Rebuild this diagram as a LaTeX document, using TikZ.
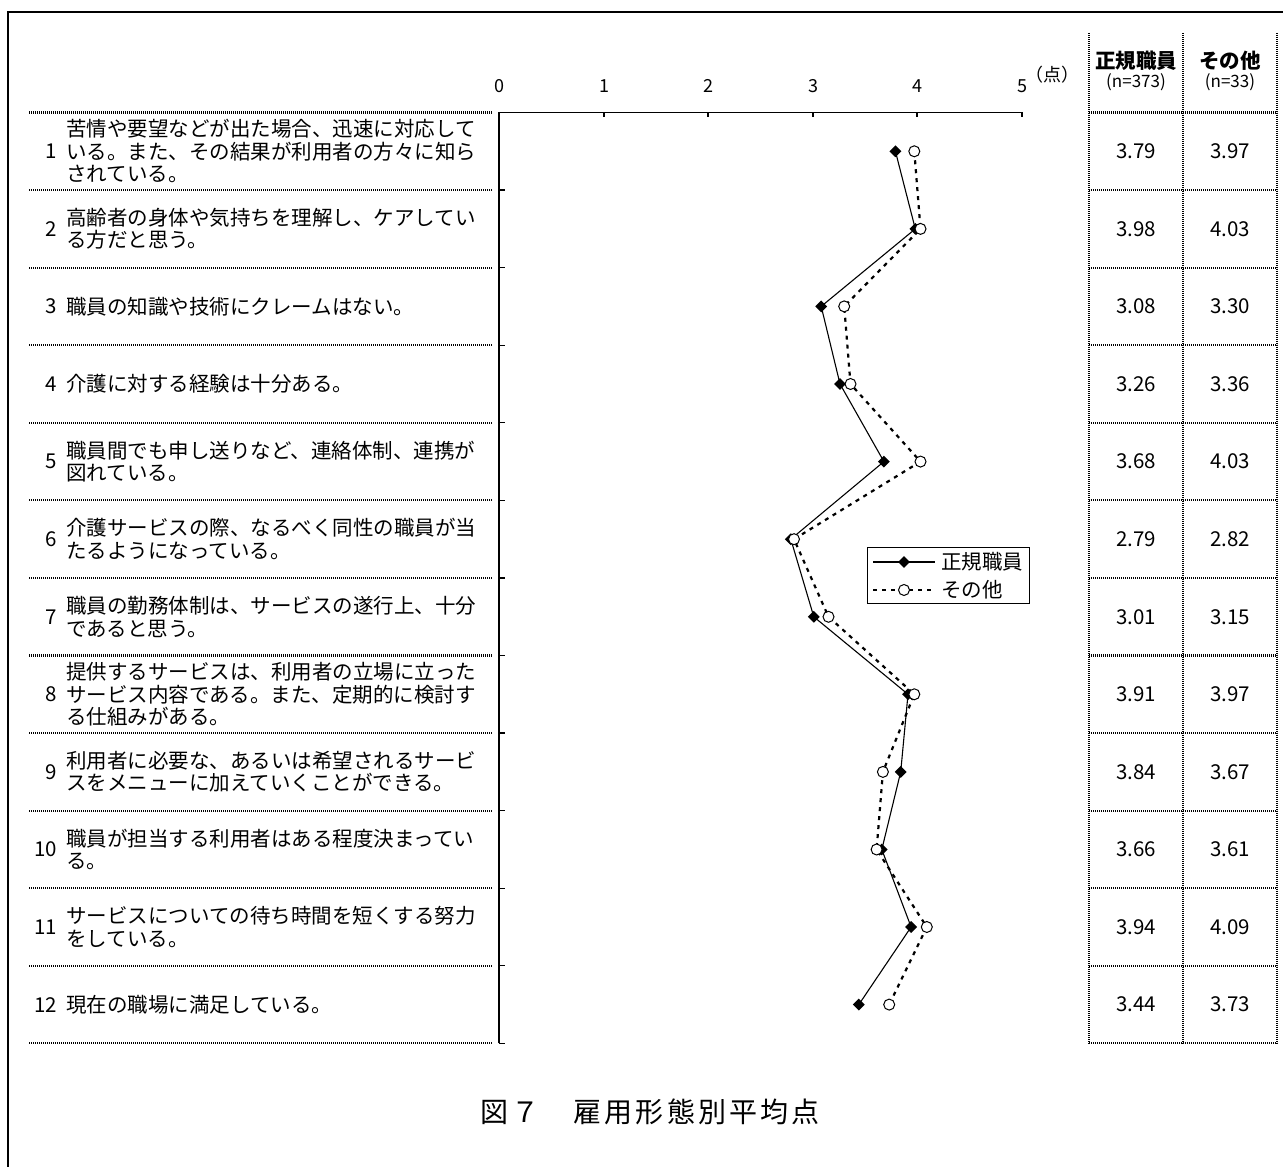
\documentclass[tikz,border=0pt]{standalone}
\usepackage{fontspec}
\setmainfont{Noto Sans CJK JP}
\newfontfamily\titlefont[LetterSpace=11]{Noto Sans CJK JP}
\usetikzlibrary{shapes.geometric}

\tikzset{
  dotsep/.style={line width=2.2bp, dash pattern=on 1bp off 1bp},
  axisline/.style={line width=1.2bp},
  fulline/.style={line width=1.1bp},
  dotline/.style={line width=2.2bp, dash pattern=on 4bp off 5bp},
  dia/.style={diamond, fill=black, inner sep=0pt, minimum size=12bp},
  circ/.style={circle, draw, fill=white, line width=1bp, inner sep=0pt, minimum size=11bp},
  rowtxt/.style={anchor=west, align=left, inner sep=0pt, font=\fontsize{20.5bp}{22.5bp}\selectfont},
  rownum/.style={anchor=east, inner sep=0pt, font=\fontsize{20.5bp}{22.5bp}\selectfont},
  val/.style={inner sep=0pt, font=\fontsize{20.5bp}{22.5bp}\selectfont},
  ticklbl/.style={inner sep=0pt, font=\fontsize{18bp}{20bp}\selectfont},
}

\begin{document}
\begin{tikzpicture}
\useasboundingbox (0bp,0bp) rectangle (1283bp,1167bp);

% Frame
\draw [line width=2bp] (1290bp,1155bp) -- (8bp,1155bp) -- (8bp,-5bp);

% Row separators, table lines, axis ticks
\foreach \y in {1054.5,976.9,899.3,821.8,744.2,666.6,589.0,511.5,433.9,356.3,278.7,201.2,123.6} {
  \draw [dotsep] (29bp,\y bp) -- (492bp,\y bp);
  \draw [dotsep] (1089bp,\y bp) -- (1277bp,\y bp);
  \draw [axisline] (499bp,\y bp) -- (505bp,\y bp);
}
\draw [dotsep] (1089bp,1134bp) -- (1089bp,123.6bp);
\draw [dotsep] (1183bp,1134bp) -- (1183bp,123.6bp);
\draw [dotsep] (1277bp,1134bp) -- (1277bp,123.6bp);

% Axes
\draw [axisline] (499bp,123.6bp) -- (499bp,1054.5bp) -- (1022bp,1054.5bp);
\draw [axisline] (604bp,1054.5bp) -- (604bp,1049.5bp);
\draw [axisline] (708bp,1054.5bp) -- (708bp,1049.5bp);
\draw [axisline] (813bp,1054.5bp) -- (813bp,1049.5bp);
\draw [axisline] (917bp,1054.5bp) -- (917bp,1049.5bp);
\draw [axisline] (1022bp,1054.5bp) -- (1022bp,1049.5bp);
\node [ticklbl] (t0) at (499bp,1081bp) {0};
\node [ticklbl] (t1) at (604bp,1081bp) {1};
\node [ticklbl] (t2) at (708bp,1081bp) {2};
\node [ticklbl] (t3) at (813bp,1081bp) {3};
\node [ticklbl] (t4) at (917bp,1081bp) {4};
\node [ticklbl] (t5) at (1022bp,1081bp) {5};
\node [inner sep=0pt, font=\fontsize{18bp}{20bp}\selectfont] (unit) at (1052bp,1092bp) {（点）};

% Table header
\node [val, font=\fontsize{20.5bp}{22.5bp}\selectfont\bfseries] (h1) at (1136bp,1106bp) {正規職員};
\node [val, font=\fontsize{17bp}{19bp}\selectfont] (n1) at (1136bp,1085bp) {(n=373)};
\node [val, font=\fontsize{20.5bp}{22.5bp}\selectfont\bfseries] (h2) at (1230bp,1106bp) {その他};
\node [val, font=\fontsize{17bp}{19bp}\selectfont] (n2) at (1230bp,1085bp) {(n=33)};

% Row labels
\node [rownum] (r1n) at (57bp,1015.7bp) {1};
\node [rowtxt] (r1) at (66bp,1015.7bp) {苦情や要望などが出た場合、迅速に対応して\\いる。また、その結果が利用者の方々に知ら\\されている。};
\node [rownum] (r2n) at (57bp,938.1bp) {2};
\node [rowtxt] (r2) at (66bp,938.1bp) {高齢者の身体や気持ちを理解し、ケアしてい\\る方だと思う。};
\node [rownum] (r3n) at (57bp,860.6bp) {3};
\node [rowtxt] (r3) at (66bp,860.6bp) {職員の知識や技術にクレームはない。};
\node [rownum] (r4n) at (57bp,783.0bp) {4};
\node [rowtxt] (r4) at (66bp,783.0bp) {介護に対する経験は十分ある。};
\node [rownum] (r5n) at (57bp,705.4bp) {5};
\node [rowtxt] (r5) at (66bp,705.4bp) {職員間でも申し送りなど、連絡体制、連携が\\図れている。};
\node [rownum] (r6n) at (57bp,627.8bp) {6};
\node [rowtxt] (r6) at (66bp,627.8bp) {介護サービスの際、なるべく同性の職員が当\\たるようになっている。};
\node [rownum] (r7n) at (57bp,550.2bp) {7};
\node [rowtxt] (r7) at (66bp,550.2bp) {職員の勤務体制は、サービスの遂行上、十分\\であると思う。};
\node [rownum] (r8n) at (57bp,472.7bp) {8};
\node [rowtxt] (r8) at (66bp,472.7bp) {提供するサービスは、利用者の立場に立った\\サービス内容である。また、定期的に検討す\\る仕組みがある。};
\node [rownum] (r9n) at (57bp,395.1bp) {9};
\node [rowtxt] (r9) at (66bp,395.1bp) {利用者に必要な、あるいは希望されるサービ\\スをメニューに加えていくことができる。};
\node [rownum] (r10n) at (57bp,317.5bp) {10};
\node [rowtxt] (r10) at (66bp,317.5bp) {職員が担当する利用者はある程度決まってい\\る。};
\node [rownum] (r11n) at (57bp,240.0bp) {11};
\node [rowtxt] (r11) at (66bp,240.0bp) {サービスについての待ち時間を短くする努力\\をしている。};
\node [rownum] (r12n) at (57bp,162.4bp) {12};
\node [rowtxt] (r12) at (66bp,162.4bp) {現在の職場に満足している。};

% Table values
\node [val] (a1) at (1136bp,1015.7bp) {3.79};  \node [val] (b1) at (1230bp,1015.7bp) {3.97};
\node [val] (a2) at (1136bp,938.1bp) {3.98};   \node [val] (b2) at (1230bp,938.1bp) {4.03};
\node [val] (a3) at (1136bp,860.6bp) {3.08};   \node [val] (b3) at (1230bp,860.6bp) {3.30};
\node [val] (a4) at (1136bp,783.0bp) {3.26};   \node [val] (b4) at (1230bp,783.0bp) {3.36};
\node [val] (a5) at (1136bp,705.4bp) {3.68};   \node [val] (b5) at (1230bp,705.4bp) {4.03};
\node [val] (a6) at (1136bp,627.8bp) {2.79};   \node [val] (b6) at (1230bp,627.8bp) {2.82};
\node [val] (a7) at (1136bp,550.2bp) {3.01};   \node [val] (b7) at (1230bp,550.2bp) {3.15};
\node [val] (a8) at (1136bp,472.7bp) {3.91};   \node [val] (b8) at (1230bp,472.7bp) {3.97};
\node [val] (a9) at (1136bp,395.1bp) {3.84};   \node [val] (b9) at (1230bp,395.1bp) {3.67};
\node [val] (a10) at (1136bp,317.5bp) {3.66};  \node [val] (b10) at (1230bp,317.5bp) {3.61};
\node [val] (a11) at (1136bp,240.0bp) {3.94};  \node [val] (b11) at (1230bp,240.0bp) {4.09};
\node [val] (a12) at (1136bp,162.4bp) {3.44};  \node [val] (b12) at (1230bp,162.4bp) {3.73};

% Series: seiki (diamond)
\coordinate (s1) at (895.4bp,1015.7bp);
\coordinate (s2) at (915.3bp,938.1bp);
\coordinate (s3) at (821.2bp,860.6bp);
\coordinate (s4) at (840.0bp,783.0bp);
\coordinate (s5) at (883.9bp,705.4bp);
\coordinate (s6) at (790.8bp,627.8bp);
\coordinate (s7) at (813.8bp,550.2bp);
\coordinate (s8) at (908.0bp,472.7bp);
\coordinate (s9) at (900.7bp,395.1bp);
\coordinate (s10) at (881.8bp,317.5bp);
\coordinate (s11) at (911.1bp,240.0bp);
\coordinate (s12) at (858.8bp,162.4bp);

% Series: sonota (circle)
\coordinate (o1) at (914.3bp,1015.7bp);
\coordinate (o2) at (920.5bp,938.1bp);
\coordinate (o3) at (844.2bp,860.6bp);
\coordinate (o4) at (850.5bp,783.0bp);
\coordinate (o5) at (920.5bp,705.4bp);
\coordinate (o6) at (794.0bp,627.8bp);
\coordinate (o7) at (828.5bp,550.2bp);
\coordinate (o8) at (914.3bp,472.7bp);
\coordinate (o9) at (882.9bp,395.1bp);
\coordinate (o10) at (876.6bp,317.5bp);
\coordinate (o11) at (926.8bp,240.0bp);
\coordinate (o12) at (889.2bp,162.4bp);

\draw [fulline] (s1) -- (s2) -- (s3) -- (s4) -- (s5) -- (s6) -- (s7) -- (s8) -- (s9) -- (s10) -- (s11) -- (s12);
\draw [dotline] (o1) -- (o2) -- (o3) -- (o4) -- (o5) -- (o6) -- (o7) -- (o8) -- (o9) -- (o10) -- (o11) -- (o12);
\path (s1) node [dia] (ms1) {} (s2) node [dia] (ms2) {} (s3) node [dia] (ms3) {}
      (s4) node [dia] (ms4) {} (s5) node [dia] (ms5) {} (s6) node [dia] (ms6) {}
      (s7) node [dia] (ms7) {} (s8) node [dia] (ms8) {} (s9) node [dia] (ms9) {}
      (s10) node [dia] (ms10) {} (s11) node [dia] (ms11) {} (s12) node [dia] (ms12) {};
\path (o1) node [circ] (mo1) {} (o2) node [circ] (mo2) {} (o3) node [circ] (mo3) {}
      (o4) node [circ] (mo4) {} (o5) node [circ] (mo5) {} (o6) node [circ] (mo6) {}
      (o7) node [circ] (mo7) {} (o8) node [circ] (mo8) {} (o9) node [circ] (mo9) {}
      (o10) node [circ] (mo10) {} (o11) node [circ] (mo11) {} (o12) node [circ] (mo12) {};

% Legend
\draw [line width=1bp] (867bp,563bp) rectangle (1029bp,619bp);
\coordinate (lg1a) at (873bp,605bp);
\coordinate (lg1b) at (935bp,605bp);
\coordinate (lg2a) at (873bp,577bp);
\coordinate (lg2b) at (935bp,577bp);
\draw [fulline] (lg1a) -- (lg1b);
\draw [dotline] (lg2a) -- (lg2b);
\node [dia] (lgm1) at (904bp,605bp) {};
\node [circ] (lgm2) at (904bp,577bp) {};
\node [rowtxt] (lgt1) at (941bp,605bp) {正規職員};
\node [rowtxt] (lgt2) at (941bp,577bp) {その他};

% Title
\node [inner sep=0pt, font=\fontsize{28bp}{30bp}\titlefont] (title) at (650bp,55bp) {図７　雇用形態別平均点};
\end{tikzpicture}
\end{document}
